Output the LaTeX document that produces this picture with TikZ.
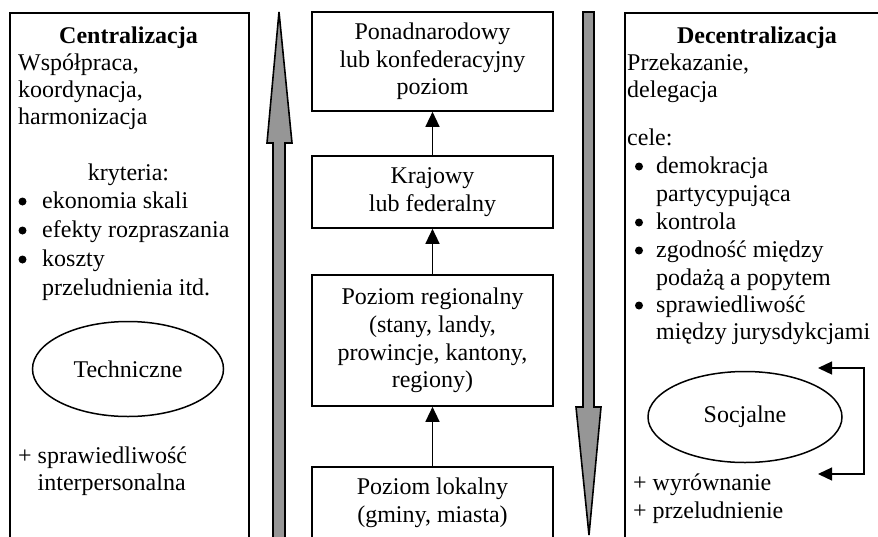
\documentclass[tikz,border=0pt]{standalone}
\usepackage{fontspec}
\setmainfont{Liberation Serif}
\usetikzlibrary{arrows.meta,shapes.geometric}
\definecolor{arrowgray}{RGB}{150,150,150}
\newcommand\fsz{\fontsize{24}{27.6}\selectfont}
\begin{document}
\begin{tikzpicture}[x=1pt,y=-1pt,font=\fsz,
  frame/.style={draw,line width=1.6pt,inner sep=0pt,anchor=north west},
  lvlbox/.style={draw,line width=1.6pt,inner sep=0pt,minimum width=241pt,align=center},
  txt/.style={anchor=base west,inner sep=0pt},
  ctxt/.style={anchor=base,inner sep=0pt},
  bul/.style={circle,fill=black,inner sep=0pt,minimum size=8pt},
  oval/.style={draw,ellipse,line width=1.5pt,inner sep=0pt},
  lvlarrow/.style={-{Triangle[length=15pt,width=14pt]},line width=1.3pt},
  fbarrow/.style={{Triangle[length=14pt,width=13pt]}-{Triangle[length=14pt,width=13pt]},line width=1.3pt},
  bigarrow/.style={fill=arrowgray,draw=black,line width=1.6pt,line join=miter}]
\useasboundingbox (0,0) rectangle (878,536);
\clip (0,0) rectangle (878,536);

% side frames
\node[frame,minimum width=239pt,minimum height=560pt] (cbox) at (9,12) {};
\node[frame,minimum width=270pt,minimum height=560pt] (dbox) at (624,12) {};

% big gray arrows
\draw[bigarrow] (279,12) -- (292,143) -- (285,143) -- (285,560) -- (273,560) -- (273,143) -- (267,143) -- cycle;
\draw[bigarrow] (583,12) -- (594,12) -- (594,407) -- (601,407) -- (589,535) -- (576,407) -- (583,407) -- cycle;

% levels
\node[lvlbox,minimum height=99pt] (lvA) at (432.5,61.5) {Ponadnarodowy\\lub konfederacyjny\\poziom};
\node[lvlbox,minimum height=72pt] (lvB) at (432.5,192) {Krajowy\\lub federalny};
\node[lvlbox,minimum height=131pt] (lvC) at (432.5,340.5) {Poziom regionalny\\(stany, landy,\\prowincje, kantony,\\regiony)};
\node[lvlbox,minimum height=72pt] (lvD) at (432.5,503) {Poziom lokalny\\(gminy, miasta)};
\draw[lvlarrow] (lvB.north) -- (lvA.south);
\draw[lvlarrow] (lvC.north) -- (lvB.south);
\draw[lvlarrow] (lvD.north) -- (lvC.south);

% left column
\node[ctxt,font=\fsz\bfseries] (ctitle) at (128.5,43) {Centralizacja};
\node[txt] (cl1) at (18,70) {Współpraca,};
\node[txt] (cl2) at (18,97) {koordynacja,};
\node[txt] (cl3) at (18,124) {harmonizacja};
\node[ctxt] (ckr) at (128.5,180) {kryteria:};
\node[bul] (cb1) at (22.5,201.5) {};
\node[txt] (ci1) at (42,208) {ekonomia skali};
\node[bul] (cb2) at (22.5,230.5) {};
\node[txt] (ci2) at (42,237) {efekty rozpraszania};
\node[bul] (cb3) at (22.5,259.5) {};
\node[txt] (ci3) at (42,266) {koszty};
\node[txt] (ci3b) at (42,295) {przeludnienia itd.};
\node[oval,minimum width=191pt,minimum height=95pt] (tech) at (128,369) {Techniczne};
\node[txt] (cp1) at (18,463) {+ sprawiedliwość};
\node[txt] (cp2) at (37.5,490) {interpersonalna};

% right column
\node[ctxt,font=\fsz\bfseries] (dtitle) at (757,43) {Decentralizacja};
\node[txt] (dl1) at (627,70) {Przekazanie,};
\node[txt] (dl2) at (627,97) {delegacja};
\node[txt] (dcele) at (627,145) {cele:};
\node[bul] (db1) at (639,166.5) {};
\node[txt] (di1) at (656,173) {demokracja};
\node[txt] (di1b) at (656,201) {partycypująca};
\node[bul] (db2) at (639,222.5) {};
\node[txt] (di2) at (656,229) {kontrola};
\node[bul] (db3) at (639,250.5) {};
\node[txt] (di3) at (656,257) {zgodność między};
\node[txt] (di3b) at (656,285) {podażą a popytem};
\node[bul] (db4) at (639,305.5) {};
\node[txt] (di4) at (656,312) {sprawiedliwość};
\node[txt] (di4b) at (656,339) {między jurysdykcjami};
\node[oval,minimum width=194pt,minimum height=91pt] (soc) at (745,417) {Socjalne};
\node[txt] (dp1) at (633,490) {+ wyrównanie};
\node[txt] (dp2) at (633,518) {+ przeludnienie};

% feedback loop
\coordinate (fbA) at (818,368);
\coordinate (fbC) at (864,368);
\coordinate (fbD) at (864,474);
\coordinate (fbB) at (818,474);
\draw[fbarrow] (fbA) -- (fbC) -- (fbD) -- (fbB);
\end{tikzpicture}
\end{document}
